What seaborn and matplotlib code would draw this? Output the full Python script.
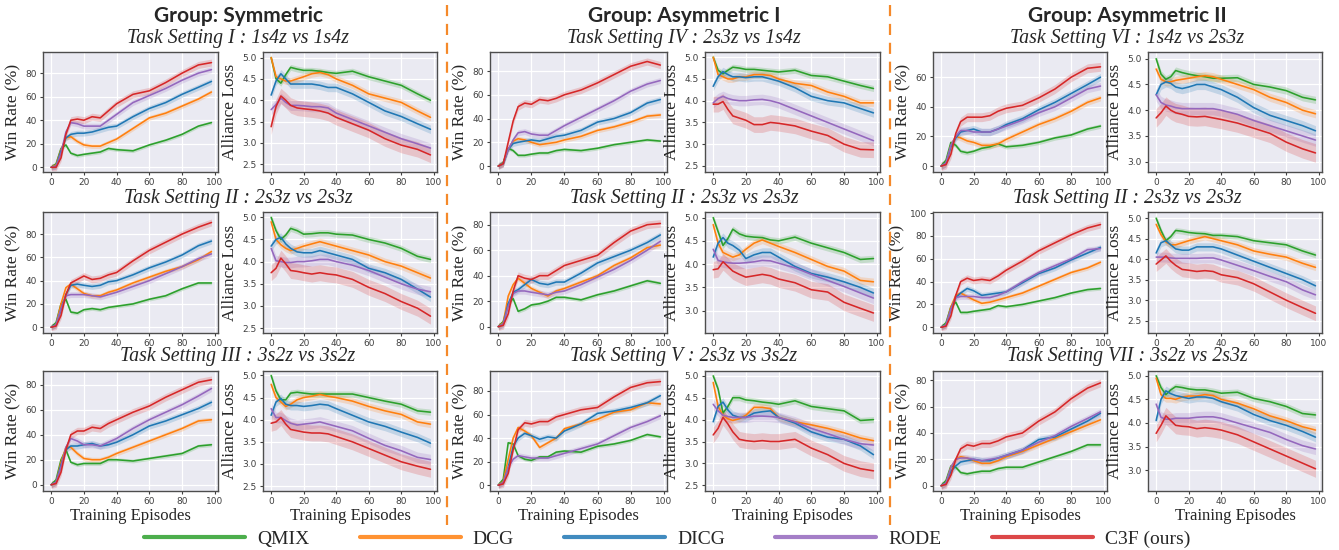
import numpy as np
import pandas as pd
import matplotlib
matplotlib.use('Agg')
import matplotlib.pyplot as plt
from matplotlib.lines import Line2D
import seaborn as sns

# ---- data ----
EPISODES = [0, 3, 6, 9, 12, 16, 20, 25, 30, 35, 40, 50, 60, 70, 80, 90, 98]
METHODS = ['QMIX', 'DCG', 'DICG', 'RODE', 'C3F (ours)']
COLORS = ['#2ca02c', '#ff7f0e', '#1f77b4', '#9467bd', '#d62728']

# half-width of the shaded band, per method
WIN_BAND = [1.5, 2.0, 2.5, 2.5, 3.0]
LOSS_BAND = [0.07, 0.08, 0.10, 0.12, 0.18]

GROUPS = ['Group: Symmetric', 'Group: Asymmetric I', 'Group: Asymmetric II']
TASKS = [
    ['Task Setting I : 1s4z vs 1s4z', 'Task Setting II : 2s3z vs 2s3z', 'Task Setting III : 3s2z vs 3s2z'],
    ['Task Setting IV : 2s3z vs 1s4z', 'Task Setting II : 2s3z vs 2s3z', 'Task Setting V : 2s3z vs 3s2z'],
    ['Task Setting VI : 1s4z vs 2s3z', 'Task Setting II : 2s3z vs 2s3z', 'Task Setting VII : 3s2z vs 2s3z'],
]

# rows: QMIX, DCG, DICG, RODE, C3F
WIN_SYM_I = [
    [0, 3, 16, 19, 12, 10, 11, 12, 13, 16, 15, 14, 19, 23, 28, 35, 38],
    [0, 2, 15, 25, 26, 22, 19, 18, 18, 21, 24, 33, 42, 46, 52, 58, 64],
    [0, 1, 14, 25, 28, 29, 29, 30, 32, 34, 35, 43, 50, 55, 62, 68, 73],
    [0, 1, 12, 30, 38, 37, 35, 35, 35, 40, 45, 55, 61, 67, 74, 80, 83],
    [0, 0, 8, 28, 40, 41, 40, 43, 42, 48, 54, 62, 65, 72, 80, 87, 89],
]
LOSS_SYM_I = [
    [5.0, 4.5, 4.4, 4.6, 4.77, 4.73, 4.7, 4.7, 4.68, 4.65, 4.63, 4.68, 4.55, 4.45, 4.35, 4.15, 4.0],
    [5.0, 4.55, 4.5, 4.45, 4.45, 4.5, 4.55, 4.62, 4.65, 4.6, 4.5, 4.35, 4.15, 4.05, 3.95, 3.75, 3.6],
    [4.12, 4.45, 4.62, 4.5, 4.38, 4.38, 4.38, 4.38, 4.35, 4.3, 4.3, 4.15, 3.95, 3.75, 3.62, 3.45, 3.32],
    [3.78, 3.9, 4.05, 3.95, 3.88, 3.88, 3.87, 3.85, 3.85, 3.82, 3.7, 3.55, 3.4, 3.25, 3.1, 2.98, 2.88],
    [3.38, 3.85, 4.1, 4.0, 3.88, 3.82, 3.8, 3.78, 3.75, 3.7, 3.6, 3.45, 3.3, 3.1, 2.95, 2.85, 2.72],
]
WIN_SYM_II = [
    [0, 4, 20, 24, 13, 12, 15, 16, 15, 17, 18, 20, 24, 27, 33, 38, 38],
    [0, 2, 20, 34, 37, 33, 29, 27, 27, 30, 32, 38, 43, 48, 52, 58, 65],
    [0, 2, 15, 28, 36, 37, 36, 35, 36, 39, 40, 45, 51, 56, 62, 70, 74],
    [0, 2, 16, 27, 28, 28, 28, 27, 26, 28, 30, 35, 40, 46, 52, 59, 63],
    [0, 1, 10, 28, 38, 41, 44, 41, 42, 45, 47, 57, 66, 73, 80, 86, 90],
]
LOSS_SYM_II = [
    [5.0, 4.7, 4.5, 4.6, 4.75, 4.7, 4.62, 4.63, 4.65, 4.65, 4.62, 4.6, 4.5, 4.42, 4.3, 4.12, 4.05],
    [4.9, 4.5, 4.38, 4.3, 4.25, 4.3, 4.35, 4.4, 4.45, 4.4, 4.35, 4.25, 4.15, 4.0, 3.9, 3.75, 3.63],
    [4.35, 4.5, 4.55, 4.4, 4.3, 4.22, 4.2, 4.2, 4.25, 4.2, 4.15, 4.05, 3.85, 3.75, 3.6, 3.38, 3.2],
    [4.3, 4.02, 4.0, 3.98, 3.98, 4.0, 4.0, 4.02, 4.05, 4.05, 4.0, 3.92, 3.8, 3.65, 3.5, 3.38, 3.32],
    [3.75, 3.85, 4.08, 3.95, 3.8, 3.78, 3.75, 3.72, 3.75, 3.72, 3.7, 3.6, 3.42, 3.28, 3.1, 2.95, 2.77],
]
WIN_SYM_III = [
    [0, 4, 20, 28, 18, 16, 17, 17, 17, 20, 20, 19, 21, 23, 25, 31, 32],
    [0, 2, 18, 30, 30, 25, 21, 20, 20, 22, 25, 30, 35, 40, 45, 51, 52],
    [0, 2, 16, 28, 31, 31, 32, 33, 31, 32, 34, 40, 47, 51, 56, 61, 66],
    [0, 2, 14, 30, 37, 35, 32, 32, 31, 34, 37, 45, 52, 58, 64, 71, 77],
    [0, 1, 10, 28, 40, 43, 43, 46, 45, 49, 52, 58, 63, 70, 76, 82, 84],
]
LOSS_SYM_III = [
    [5.0, 4.65, 4.45, 4.45, 4.6, 4.62, 4.6, 4.58, 4.58, 4.58, 4.58, 4.58, 4.5, 4.42, 4.35, 4.2, 4.17],
    [4.8, 4.5, 4.4, 4.3, 4.35, 4.45, 4.5, 4.53, 4.57, 4.53, 4.5, 4.42, 4.3, 4.2, 4.12, 3.95, 3.9],
    [4.1, 4.4, 4.48, 4.35, 4.32, 4.32, 4.3, 4.32, 4.35, 4.33, 4.25, 4.1, 3.95, 3.85, 3.72, 3.6, 3.47],
    [4.25, 4.05, 4.05, 3.98, 3.92, 3.88, 3.9, 3.92, 3.95, 3.9, 3.85, 3.75, 3.58, 3.42, 3.3, 3.15, 3.1],
    [3.92, 3.95, 4.05, 3.9, 3.78, 3.75, 3.72, 3.7, 3.7, 3.68, 3.62, 3.5, 3.35, 3.2, 3.05, 2.95, 2.88],
]
WIN_ASY1_IV = [
    [0, 3, 15, 13, 9, 9, 10, 11, 11, 13, 14, 13, 15, 18, 20, 22, 21],
    [0, 2, 14, 21, 23, 22, 20, 18, 19, 20, 22, 25, 30, 33, 37, 42, 43],
    [0, 2, 14, 19, 20, 21, 22, 21, 23, 25, 26, 30, 37, 40, 45, 53, 56],
    [0, 2, 14, 22, 28, 29, 27, 26, 26, 30, 34, 41, 48, 55, 63, 69, 72],
    [0, 2, 20, 38, 50, 53, 52, 56, 55, 57, 60, 64, 70, 77, 84, 88, 85],
]
LOSS_ASY1_IV = [
    [5.0, 4.7, 4.62, 4.7, 4.77, 4.75, 4.72, 4.72, 4.7, 4.68, 4.66, 4.7, 4.58, 4.55, 4.45, 4.35, 4.28],
    [5.0, 4.6, 4.55, 4.5, 4.5, 4.55, 4.55, 4.6, 4.6, 4.58, 4.5, 4.4, 4.35, 4.2, 4.1, 3.95, 3.95],
    [4.33, 4.55, 4.67, 4.6, 4.55, 4.55, 4.53, 4.55, 4.55, 4.5, 4.45, 4.3, 4.1, 4.0, 3.95, 3.82, 3.72],
    [3.95, 4.05, 4.1, 4.05, 4.02, 4.0, 4.0, 4.02, 4.03, 4.0, 3.95, 3.8, 3.65, 3.5, 3.35, 3.2, 3.08],
    [3.92, 3.92, 3.98, 3.8, 3.65, 3.6, 3.55, 3.45, 3.45, 3.5, 3.48, 3.42, 3.3, 3.2, 3.0, 2.88, 2.87],
]
WIN_ASY1_II = [
    [0, 4, 18, 22, 12, 14, 17, 18, 20, 23, 23, 21, 25, 28, 32, 36, 34],
    [0, 3, 24, 33, 38, 34, 30, 27, 24, 28, 30, 35, 40, 48, 54, 62, 64],
    [0, 2, 18, 27, 29, 33, 37, 34, 33, 35, 35, 42, 50, 55, 60, 66, 72],
    [0, 2, 16, 26, 28, 28, 27, 26, 25, 27, 28, 33, 39, 45, 52, 60, 67],
    [0, 1, 10, 28, 40, 38, 37, 40, 40, 44, 48, 52, 56, 66, 75, 80, 81],
]
LOSS_ASY1_II = [
    [5.0, 4.7, 4.4, 4.55, 4.75, 4.65, 4.6, 4.58, 4.57, 4.52, 4.5, 4.58, 4.45, 4.35, 4.25, 4.1, 4.12],
    [4.85, 4.45, 4.25, 4.2, 4.15, 4.2, 4.32, 4.45, 4.52, 4.45, 4.38, 4.25, 4.1, 3.95, 3.85, 3.65, 3.62],
    [4.15, 4.45, 4.57, 4.45, 4.4, 4.3, 4.12, 4.2, 4.25, 4.25, 4.15, 3.95, 3.8, 3.72, 3.62, 3.5, 3.38],
    [4.32, 4.08, 4.05, 4.03, 4.02, 4.02, 4.03, 4.05, 4.08, 4.07, 4.02, 3.92, 3.78, 3.65, 3.52, 3.38, 3.27],
    [3.88, 3.9, 4.05, 3.95, 3.85, 3.78, 3.72, 3.75, 3.78, 3.75, 3.68, 3.6, 3.45, 3.4, 3.18, 3.05, 2.95],
]
WIN_ASY1_V = [
    [0, 5, 36, 35, 25, 22, 21, 24, 24, 28, 29, 28, 33, 35, 38, 43, 41],
    [0, 3, 22, 40, 49, 46, 42, 32, 36, 40, 48, 52, 56, 62, 64, 70, 69],
    [0, 2, 15, 33, 40, 44, 42, 39, 41, 40, 46, 52, 61, 63, 66, 70, 76],
    [0, 2, 15, 22, 25, 24, 23, 23, 23, 25, 27, 31, 35, 42, 49, 54, 59],
    [0, 1, 10, 30, 47, 53, 52, 54, 54, 58, 60, 64, 66, 75, 83, 87, 88],
]
LOSS_ASY1_V = [
    [5.0, 4.7, 4.15, 4.3, 4.5, 4.5, 4.45, 4.43, 4.4, 4.38, 4.35, 4.43, 4.3, 4.25, 4.2, 3.98, 4.0],
    [4.85, 4.3, 4.1, 4.02, 3.98, 4.02, 4.1, 4.28, 4.28, 4.25, 4.05, 3.95, 3.88, 3.8, 3.7, 3.58, 3.52],
    [3.95, 4.3, 4.4, 4.22, 4.1, 4.05, 4.05, 4.15, 4.18, 4.2, 4.05, 3.92, 3.72, 3.6, 3.55, 3.4, 3.2],
    [4.35, 4.2, 4.1, 4.07, 4.05, 4.05, 4.05, 4.08, 4.08, 4.07, 4.05, 3.95, 3.8, 3.68, 3.55, 3.45, 3.42],
    [3.65, 3.8, 4.05, 3.9, 3.72, 3.55, 3.52, 3.5, 3.52, 3.5, 3.5, 3.55, 3.35, 3.2, 3.0, 2.88, 2.83],
]
WIN_ASY2_VI = [
    [0, 4, 16, 14, 10, 9, 10, 12, 13, 15, 13, 14, 16, 19, 21, 25, 27],
    [0, 2, 14, 20, 19, 17, 16, 14, 14, 15, 18, 23, 28, 32, 37, 43, 46],
    [0, 2, 13, 19, 23, 24, 25, 23, 23, 25, 28, 32, 38, 43, 49, 55, 60],
    [0, 2, 14, 20, 24, 24, 23, 23, 23, 25, 27, 31, 36, 40, 46, 52, 54],
    [0, 1, 8, 22, 30, 33, 33, 33, 34, 37, 39, 41, 46, 52, 60, 66, 67],
]
LOSS_ASY2_VI = [
    [5.0, 4.7, 4.6, 4.65, 4.77, 4.73, 4.7, 4.67, 4.65, 4.62, 4.62, 4.63, 4.5, 4.45, 4.38, 4.25, 4.2],
    [4.8, 4.6, 4.55, 4.55, 4.58, 4.6, 4.62, 4.65, 4.67, 4.65, 4.6, 4.5, 4.4, 4.25, 4.15, 4.0, 3.93],
    [4.3, 4.5, 4.55, 4.52, 4.45, 4.42, 4.45, 4.5, 4.5, 4.45, 4.4, 4.25, 4.05, 3.9, 3.8, 3.7, 3.6],
    [4.3, 4.15, 4.1, 4.08, 4.05, 4.03, 4.03, 4.03, 4.03, 4.03, 4.0, 3.92, 3.8, 3.7, 3.6, 3.5, 3.42],
    [3.85, 3.95, 4.08, 4.0, 3.95, 3.92, 3.88, 3.87, 3.88, 3.85, 3.82, 3.75, 3.65, 3.55, 3.38, 3.25, 3.17],
]
WIN_ASY2_II = [
    [0, 4, 18, 22, 13, 13, 14, 15, 16, 19, 18, 20, 23, 26, 30, 33, 34],
    [0, 2, 18, 28, 30, 27, 24, 21, 22, 24, 26, 30, 36, 42, 48, 52, 57],
    [0, 2, 16, 26, 30, 34, 32, 28, 29, 30, 31, 39, 47, 52, 59, 65, 70],
    [0, 2, 16, 26, 27, 27, 27, 26, 26, 28, 31, 40, 48, 54, 60, 68, 69],
    [0, 1, 10, 28, 40, 43, 41, 42, 41, 45, 50, 58, 67, 74, 81, 87, 90],
]
LOSS_ASY2_II = [
    [5.0, 4.7, 4.45, 4.55, 4.7, 4.68, 4.65, 4.63, 4.62, 4.58, 4.58, 4.55, 4.45, 4.4, 4.35, 4.2, 4.1],
    [4.85, 4.6, 4.42, 4.35, 4.35, 4.4, 4.45, 4.5, 4.55, 4.5, 4.45, 4.35, 4.2, 4.12, 4.05, 3.9, 3.8],
    [4.15, 4.4, 4.45, 4.35, 4.25, 4.22, 4.22, 4.3, 4.3, 4.3, 4.25, 4.1, 3.95, 3.8, 3.65, 3.5, 3.35],
    [4.05, 4.05, 4.05, 4.03, 4.02, 4.02, 4.02, 4.02, 4.03, 4.03, 3.98, 3.85, 3.72, 3.58, 3.45, 3.25, 3.13],
    [3.88, 3.98, 4.08, 3.95, 3.85, 3.75, 3.73, 3.7, 3.72, 3.7, 3.62, 3.55, 3.4, 3.2, 3.0, 2.82, 2.68],
]
WIN_ASY2_VII = [
    [0, 4, 15, 14, 10, 9, 10, 11, 11, 13, 14, 14, 18, 22, 26, 31, 31],
    [0, 2, 14, 20, 22, 21, 19, 17, 17, 19, 22, 26, 31, 36, 41, 46, 50],
    [0, 2, 11, 15, 18, 19, 20, 19, 19, 21, 23, 27, 35, 37, 43, 49, 55],
    [0, 2, 14, 20, 21, 21, 20, 19, 20, 21, 23, 27, 33, 38, 45, 51, 56],
    [0, 1, 8, 20, 28, 31, 30, 32, 32, 34, 37, 40, 49, 56, 66, 74, 78],
]
LOSS_ASY2_VII = [
    [5.0, 4.75, 4.6, 4.7, 4.77, 4.75, 4.72, 4.7, 4.7, 4.67, 4.63, 4.65, 4.52, 4.45, 4.35, 4.2, 4.17],
    [4.95, 4.6, 4.52, 4.52, 4.5, 4.55, 4.57, 4.57, 4.6, 4.58, 4.5, 4.42, 4.3, 4.15, 4.05, 3.92, 3.85],
    [4.05, 4.5, 4.68, 4.62, 4.58, 4.55, 4.52, 4.55, 4.55, 4.52, 4.45, 4.35, 4.18, 4.05, 3.95, 3.82, 3.7],
    [4.4, 4.12, 4.08, 4.08, 4.1, 4.1, 4.1, 4.12, 4.13, 4.13, 4.1, 4.0, 3.9, 3.8, 3.65, 3.52, 3.45],
    [3.78, 3.95, 4.15, 4.05, 3.95, 3.93, 3.92, 3.88, 3.9, 3.88, 3.85, 3.75, 3.6, 3.45, 3.3, 3.15, 3.03],
]

WIN_PANELS = [[WIN_SYM_I, WIN_SYM_II, WIN_SYM_III],
              [WIN_ASY1_IV, WIN_ASY1_II, WIN_ASY1_V],
              [WIN_ASY2_VI, WIN_ASY2_II, WIN_ASY2_VII]]
LOSS_PANELS = [[LOSS_SYM_I, LOSS_SYM_II, LOSS_SYM_III],
               [LOSS_ASY1_IV, LOSS_ASY1_II, LOSS_ASY1_V],
               [LOSS_ASY2_VI, LOSS_ASY2_II, LOSS_ASY2_VII]]

WIN_YLIM = [[(-4, 98), (-5, 99), (-5, 91)],
            [(-5, 96), (-5, 90), (-5, 97)],
            [(-4, 77), (-5, 101), (-4, 87)]]
LOSS_YLIM = [[(2.32, 5.13), (2.39, 5.12), (2.39, 5.1)],
             [(2.36, 5.12), (2.52, 5.12), (2.37, 5.11)],
             [(2.8, 5.13), (2.2, 5.15), (2.56, 5.1)]]

# ---- layout (pixels in a 1339x550 figure) ----
W, H = 1339, 550
WIN_X = [(43, 218), (490, 667), (933, 1107)]
LOSS_X = [(263, 437), (705, 880), (1148, 1322)]
ROW_Y = [(52, 172), (212, 333), (371, 491)]
GROUP_CX = [238, 684, 1127]

sns.set_theme(style='darkgrid')
plt.rcParams['font.family'] = ['DejaVu Sans']
SERIF = ['Liberation Serif', 'DejaVu Serif']


def frame(x0, x1, y0, y1):
    return [x0 / W, 1 - y1 / H, (x1 - x0) / W, (y1 - y0) / H]


def to_long(values):
    rows = []
    for method, series in zip(METHODS, values):
        for ep, v in zip(EPISODES, series):
            rows.append({'episode': ep, 'value': v, 'method': method})
    return pd.DataFrame(rows)


def draw_panel(ax, values, band, ylim, ticks):
    df = to_long(values)
    for i, method in enumerate(METHODS):
        sub = df[df['method'] == method]
        ax.fill_between(sub['episode'], sub['value'] - band[i], sub['value'] + band[i],
                        color=COLORS[i], alpha=0.2, linewidth=0)
    sns.lineplot(data=df, x='episode', y='value', hue='method', hue_order=METHODS,
                 palette=COLORS, linewidth=1.15, legend=False, ax=ax)
    ax.set_xlim(-5, 102)
    ax.set_ylim(*ylim)
    ax.set_xticks([0, 20, 40, 60, 80, 100])
    ax.set_yticks([t for t in ticks if ylim[0] <= t <= ylim[1]])
    ax.set_xlabel('')
    ax.set_ylabel('')
    ax.tick_params(labelsize=6.5, colors='0.25', length=2.5, width=0.8,
                   bottom=True, left=True, pad=2)
    ax.grid(color='white', linewidth=0.9)
    for sp in ax.spines.values():
        sp.set_visible(True)
        sp.set_color('0.3')
        sp.set_linewidth(1.0)


fig = plt.figure(figsize=(W / 100, H / 100), dpi=100)
fig.patch.set_facecolor('white')

win_ticks = [0, 20, 40, 60, 80, 100]
loss_ticks = [2.5, 3.0, 3.5, 4.0, 4.5, 5.0]

for g in range(3):
    fig.text(GROUP_CX[g] / W, 1 - 16 / H, GROUPS[g], ha='center', va='center',
             fontsize=15, fontweight='bold', family=['Lato', 'DejaVu Sans'])
    for r in range(3):
        y0, y1 = ROW_Y[r]
        fig.text(GROUP_CX[g] / W, 1 - (y0 - 14) / H, TASKS[g][r], ha='center', va='center',
                 fontsize=14.3, style='italic', family=SERIF)

        ax_w = fig.add_axes(frame(*WIN_X[g], y0, y1))
        draw_panel(ax_w, WIN_PANELS[g][r], WIN_BAND, WIN_YLIM[g][r], win_ticks)
        ax_w.set_ylabel('Win Rate (%)', fontsize=12.5, family=SERIF, labelpad=3)

        ax_l = fig.add_axes(frame(*LOSS_X[g], y0, y1))
        draw_panel(ax_l, LOSS_PANELS[g][r], LOSS_BAND, LOSS_YLIM[g][r], loss_ticks)
        ax_l.yaxis.set_major_formatter(matplotlib.ticker.FormatStrFormatter('%.1f'))
        ax_l.set_ylabel('Alliance Loss', fontsize=12.5, family=SERIF, labelpad=3)

        if r == 2:
            for ax in (ax_w, ax_l):
                ax.set_xlabel('Training Episodes', fontsize=12, family=SERIF, labelpad=1)

# orange dashed separators
for xs in (447, 890):
    fig.add_artist(Line2D([xs / W, xs / W], [1 - 5 / H, 1 - 525 / H], color='#f5892a',
                          linewidth=1.6, dashes=(5, 3.5), transform=fig.transFigure))

handles = [Line2D([0], [0], color=c, linewidth=3, alpha=0.85) for c in COLORS]
fig.legend(handles, METHODS, loc='center', bbox_to_anchor=(667 / W, 1 - 539 / H), ncol=5,
           frameon=False, handlelength=5.2, handletextpad=0.6, columnspacing=2.6,
           prop={'family': SERIF, 'size': 14})

fig.savefig('out.png', dpi=100)
